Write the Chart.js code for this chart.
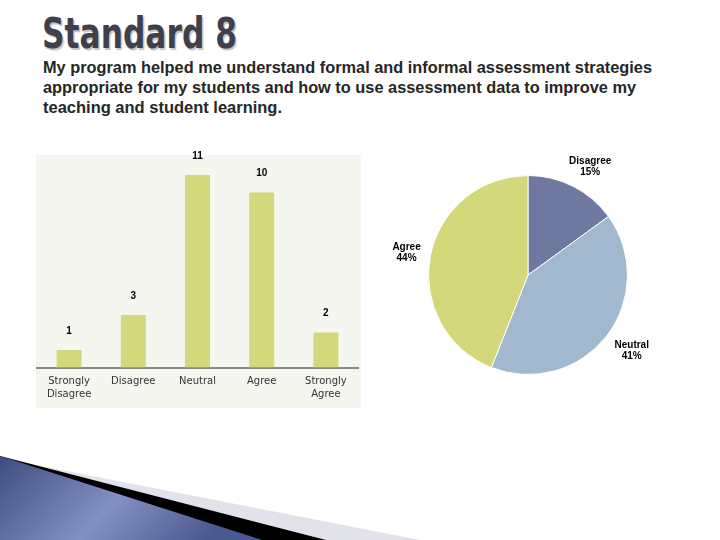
<!DOCTYPE html>
<html><head><meta charset="utf-8">
<script src="https://cdn.jsdelivr.net/npm/chart.js@4.4.1/dist/chart.umd.min.js"></script>
<style>
html,body{margin:0;padding:0;background:#fff;}
#page{position:relative;width:720px;height:540px;overflow:hidden;background:#fff;}
.fit{position:absolute;white-space:nowrap;transform-origin:0 0;margin:0}
#title{left:42px;top:12px;font:bold 42px/44px "DejaVu Sans";color:#40404c;text-shadow:2px 2px 1px #c4c4c8;}
.sub{left:43px;font:bold 16px/20px "Liberation Sans";color:#262626;}
#panel{position:absolute;left:36px;top:155px;width:325px;height:253px;background:#f6f6f1;}
#barCanvas{position:absolute;left:30px;top:140px;}
#pieCanvas{position:absolute;left:380px;top:140px;}
#deco{position:absolute;left:0;top:0}
</style></head>
<body>
<div id="page">
  <div id="title" class="fit" data-w="195">Standard 8</div>
  <div class="fit sub" style="top:58px" data-w="609">My program helped me understand formal and informal assessment strategies</div>
  <div class="fit sub" style="top:78px" data-w="593">appropriate for my students and how to use assessment data to improve my</div>
  <div class="fit sub" style="top:98px" data-w="239">teaching and student learning.</div>
  <div id="panel"></div>
  <canvas id="barCanvas" width="340" height="275"></canvas>
  <canvas id="pieCanvas" width="300" height="270"></canvas>
  <svg id="deco" width="720" height="540">
    <defs>
      <linearGradient id="blueG" x1="0" y1="0" x2="1" y2="0.3">
        <stop offset="0" stop-color="#3f4c80"/>
        <stop offset="0.55" stop-color="#8390c2"/>
        <stop offset="1" stop-color="#4b5990"/>
      </linearGradient>
    </defs>
    <polygon points="0,458 420,540 0,540" fill="#e2e2ea"/>
    <polygon points="0,456 326,540 0,540" fill="#000"/>
    <polygon points="0,456 262,540 0,540" fill="url(#blueG)"/>
  </svg>
</div>
<script>
// ---- data ----
const categories = ["Strongly Disagree", "Disagree", "Neutral", "Agree", "Strongly Agree"];
const tickLabels = [["Strongly", "Disagree"], ["Disagree"], ["Neutral"], ["Agree"], ["Strongly", "Agree"]];
const responseCounts = [1, 3, 11, 10, 2];
const pieCategories = ["Disagree", "Neutral", "Agree"];
const piePercents = [15, 41, 44];

const barColor = "#d4d87c";
const pieColors = ["#6f789f", "#a1b8cf", "#d4d87b"];

// fit heading text widths
document.querySelectorAll(".fit").forEach(el => {
  const w = el.getBoundingClientRect().width;
  const target = parseFloat(el.dataset.w);
  el.style.transform = "scaleX(" + (target / w) + ")";
});

// value labels above bars
const barValuePlugin = {
  id: "barValues",
  afterDatasetsDraw(chart) {
    const ctx = chart.ctx;
    const meta = chart.getDatasetMeta(0);
    ctx.save();
    ctx.font = "bold 10px 'Liberation Sans'";
    ctx.fillStyle = "#000";
    ctx.textAlign = "center";
    ctx.textBaseline = "middle";
    meta.data.forEach((bar, i) => {
      ctx.fillText(String(chart.data.datasets[0].data[i]), bar.x, bar.y - 19);
    });
    ctx.restore();
  }
};

new Chart(document.getElementById("barCanvas"), {
  type: "bar",
  data: {
    labels: tickLabels,
    datasets: [{ label: "Responses", data: responseCounts, backgroundColor: barColor,
      categoryPercentage: 1, barPercentage: 0.39 }]
  },
  options: {
    responsive: false,
    animation: false,
    layout: { padding: { top: 17.5, left: 7, right: 12, bottom: 0 } },
    plugins: { legend: { display: false }, tooltip: { enabled: false } },
    scales: {
      x: {
        grid: { display: false, drawTicks: false },
        border: { display: true, color: "#8a8a8a", width: 2 },
        ticks: { font: { family: "DejaVu Sans", size: 10, lineHeight: 1.25 }, color: "#333",
          maxRotation: 0, autoSkip: false, padding: 8 },
        afterFit(scale) { scale.height = 47.5; }
      },
      y: { display: false, min: 0, max: 12 }
    }
  },
  plugins: [barValuePlugin]
});

// outside labels for pie
const pieLabelPlugin = {
  id: "pieLabels",
  afterDatasetsDraw(chart) {
    const ctx = chart.ctx;
    const meta = chart.getDatasetMeta(0);
    ctx.save();
    ctx.font = "bold 10px 'Liberation Sans'";
    ctx.fillStyle = "#000";
    ctx.textAlign = "center";
    ctx.textBaseline = "middle";
    meta.data.forEach((arc, i) => {
      const mid = (arc.startAngle + arc.endAngle) / 2;
      const l1 = chart.data.labels[i];
      const l2 = chart.data.datasets[0].data[i] + "%";
      const w = Math.max(ctx.measureText(l1).width, ctx.measureText(l2).width);
      const h = 22;
      const r = arc.outerRadius + 12;
      const cx = arc.x + Math.cos(mid) * r + Math.cos(mid) * w / 2 + 2;
      const cy = arc.y + Math.sin(mid) * r + Math.sin(mid) * h / 2 + 1;
      ctx.fillText(l1, cx, cy - 5.5);
      ctx.fillText(l2, cx, cy + 5.5);
    });
    ctx.restore();
  }
};

new Chart(document.getElementById("pieCanvas"), {
  type: "pie",
  data: {
    labels: pieCategories,
    datasets: [{ data: piePercents, backgroundColor: pieColors, borderColor: "#ffffff", borderWidth: 1 }]
  },
  options: {
    responsive: false,
    animation: false,
    radius: 99.5,
    layout: { padding: { left: 48, right: 52, top: 35, bottom: 35 } },
    plugins: { legend: { display: false }, tooltip: { enabled: false } }
  },
  plugins: [pieLabelPlugin]
});
</script>
</body></html>
